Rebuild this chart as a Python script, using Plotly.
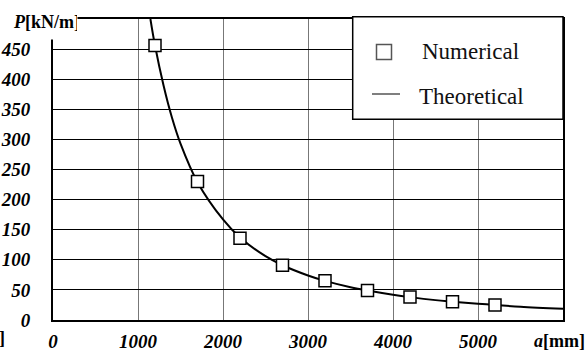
import plotly.graph_objects as go

# Numerical results
a_num = [1200, 1700, 2200, 2700, 3200, 3700, 4200, 4700, 5200]
p_num = [456, 230, 136, 91, 65, 49, 38, 30.5, 25]

# Theoretical curve
a_th = [1146, 1200, 1300, 1400, 1500, 1700, 2000, 2200, 2500, 2700, 3000,
        3200, 3500, 3700, 4000, 4200, 4500, 4700, 5000, 5200, 5500, 6000]
p_th = [500, 456, 390, 336, 293, 229, 167, 137, 106, 91, 74,
        65, 54.5, 49, 42, 38, 33, 30.5, 27, 25, 22, 18.6]

x_ticks = [0, 1000, 2000, 3000, 4000, 5000]
y_ticks = [0, 50, 100, 150, 200, 250, 300, 350, 400, 450]

FONT = "Times New Roman, Liberation Serif, serif"
L, R, T, B = 53, 24, 19, 32
W, H = 587, 352
PW, PH = W - L - R, H - T - B

def px(x):
    return (x - L) / PW

def py(y):
    return (H - B - y) / PH

fig = go.Figure()
fig.add_trace(go.Scatter(x=a_th, y=p_th, mode="lines", name="Theoretical",
                         line=dict(color="black", width=2, shape="spline"),
                         showlegend=False))
fig.add_trace(go.Scatter(x=a_num, y=p_num, mode="markers", name="Numerical",
                         marker=dict(symbol="square", size=12, color="white",
                                     line=dict(color="black", width=1.5)),
                         showlegend=False))

tickfont = dict(family=FONT, size=19, color="black")

fig.update_xaxes(range=[0, 6000], tickvals=x_ticks,
                 ticktext=["<b><i>%d</i></b>" % v for v in x_ticks],
                 showgrid=True, gridcolor="#777777", gridwidth=1, zeroline=False,
                 showline=True, linecolor="black", linewidth=2, mirror=True,
                 ticks="", tickfont=tickfont, ticklabelstandoff=3, automargin=False)
fig.update_yaxes(range=[0, 500], tickvals=y_ticks,
                 ticktext=["<b><i>%d</i></b>" % v for v in y_ticks],
                 showgrid=True, gridcolor="black", gridwidth=1, zeroline=False,
                 showline=True, linecolor="black", linewidth=2, mirror=True,
                 ticks="", tickfont=tickfont, ticklabelstandoff=17, automargin=False)

shapes = [
    # legend box
    dict(type="rect", xref="paper", yref="paper", x0=px(352.7), x1=1.0,
         y0=py(119.3), y1=py(16.7), fillcolor="white",
         line=dict(color="black", width=1.5), layer="above"),
    # square glyph
    dict(type="rect", xref="paper", yref="paper", x0=px(376.5), x1=px(391.5),
         y0=py(59.5), y1=py(44.5), fillcolor="white",
         line=dict(color="#555555", width=1.5), layer="above"),
    # line glyph
    dict(type="line", xref="paper", yref="paper", x0=px(372), x1=px(400),
         y0=py(94), y1=py(94), line=dict(color="#555555", width=1.5), layer="above"),
]

annotations = [
    dict(text="Numerical", xref="paper", yref="paper", x=px(420), y=py(51),
         xanchor="left", yanchor="middle", showarrow=False,
         font=dict(family=FONT, size=23, color="#111111")),
    dict(text="Theoretical", xref="paper", yref="paper", x=px(417), y=py(96),
         xanchor="left", yanchor="middle", showarrow=False,
         font=dict(family=FONT, size=23, color="#111111")),
    dict(text="<b><i>P</i>[kN/m]</b>", xref="paper", yref="paper", x=px(12), y=py(4),
         xanchor="left", yanchor="top", showarrow=False, width=64, height=34,
         bgcolor="white", borderpad=0, valign="middle", align="left",
         font=dict(family=FONT, size=18, color="black")),
    dict(text="<b><i>a</i>[mm]</b>", xref="paper", yref="paper", x=px(559), y=py(341),
         xanchor="center", yanchor="middle", showarrow=False,
         font=dict(family=FONT, size=18, color="black")),
    dict(text="<b>]</b>", xref="paper", yref="paper", x=px(-2), y=py(338),
         xanchor="left", yanchor="middle", showarrow=False, borderpad=0,
         font=dict(family=FONT, size=18, color="black")),
]

fig.update_layout(width=W, height=H, margin=dict(l=L, r=R, t=T, b=B),
                  paper_bgcolor="white", plot_bgcolor="white",
                  font=dict(family=FONT),
                  shapes=shapes, annotations=annotations, showlegend=False)

fig.write_html("out.html")
